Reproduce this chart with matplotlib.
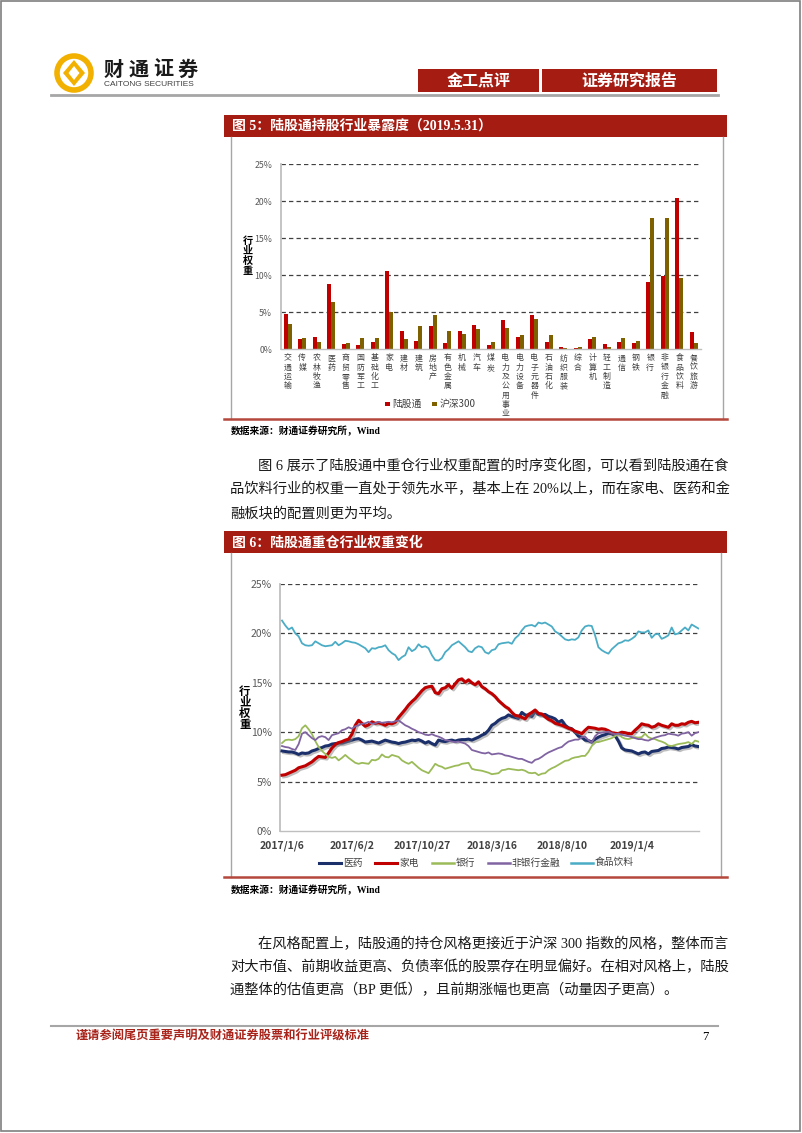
import numpy as np
import matplotlib
matplotlib.use("Agg")
import matplotlib.pyplot as plt
import matplotlib.patheffects as pe
from matplotlib.patches import Rectangle, Circle, Polygon

CJK = "Noto Sans CJK SC"
SERIF = ["Liberation Serif", CJK]
plt.rcParams["font.family"] = [CJK, "DejaVu Sans"]

W, H = 802, 1133
BAR_RED = "#A51C12"

# ---- figure 5: industry exposure (2019.5.31) ----
industries = ["交通运输", "传媒", "农林牧渔", "医药", "商贸零售", "国防军工", "基础化工",
              "家电", "建材", "建筑", "房地产", "有色金属", "机械", "汽车", "煤炭",
              "电力及公用事业", "电力设备", "电子元器件", "石油石化", "纺织服装", "综合",
              "计算机", "轻工制造", "通信", "钢铁", "银行", "非银行金融", "食品饮料", "餐饮旅游"]
lgt = [4.8, 1.35, 1.6, 8.8, 0.7, 0.6, 1.0, 10.6, 2.5, 1.1, 3.1, 0.8, 2.5, 3.3, 0.55,
       3.9, 1.65, 4.7, 1.05, 0.27, 0.13, 1.4, 0.68, 0.95, 0.8, 9.05, 9.95, 20.5, 2.4]
hs300 = [3.4, 1.5, 1.0, 6.4, 0.9, 1.5, 1.5, 5.1, 1.4, 3.2, 4.7, 2.5, 2.1, 2.8, 1.0,
         2.85, 2.0, 4.1, 1.9, 0.13, 0.27, 1.7, 0.27, 1.5, 1.1, 17.75, 17.7, 9.65, 0.9]

# ---- figure 6: weekly weights, 2017/1/6 .. 2019/5/31 ----
date_ticks = ["2017/1/6", "2017/6/2", "2017/10/27", "2018/3/16", "2018/8/10", "2019/1/4"]
tick_step = 21   # one labelled date every 21 weekly observations
yiyao = [8.1, 8.05, 8.0, 8.0, 7.9, 7.75, 7.9, 7.85, 7.9, 8.1,
         8.2, 8.35, 8.45, 8.6, 8.65, 8.8, 8.85, 8.9, 8.9, 9.0,
         9.1, 9.2, 9.3, 9.35, 9.2, 9.0, 9.05, 9.1, 9.0, 8.9,
         9.05, 9.2, 9.1, 9.0, 8.95, 8.85, 8.95, 9.0, 9.1, 9.2,
         9.15, 9.25, 9.1, 8.9, 9.05, 8.85, 8.7, 9.2, 9.1, 9.05,
         9.15, 9.2, 9.1, 9.2, 9.25, 9.25, 9.3, 9.2, 9.35, 9.5,
         9.7, 9.85, 10.2, 10.7, 10.9, 11.2, 11.4, 11.5, 11.75, 11.6,
         11.5, 11.4, 12.0, 11.75, 11.7, 11.6, 12.1, 11.8, 11.75, 11.8,
         11.6, 11.5, 11.35, 11.0, 11.2, 10.7, 10.45, 10.35, 10.0, 9.6,
         9.5, 9.2, 9.15, 9.0, 9.3, 9.5, 9.65, 9.75, 9.9, 9.85,
         9.65, 9.1, 8.4, 8.2, 8.15, 8.1, 7.95, 7.8, 7.95, 8.0,
         7.8, 8.05, 8.1, 8.15, 8.35, 8.4, 8.5, 8.45, 8.4, 8.3,
         8.45, 8.5, 8.55, 8.75, 8.6, 8.55]
jiadian = [5.65, 5.7, 5.85, 6.0, 6.15, 6.4, 6.5, 6.6, 6.8, 7.0,
           7.3, 7.55, 7.5, 7.45, 7.9, 8.4, 8.75, 8.95, 9.05, 9.2,
           9.3, 9.8, 10.7, 11.2, 10.9, 10.6, 10.75, 11.05, 10.9, 10.95,
           10.85, 10.7, 10.9, 10.85, 11.0, 11.5, 11.9, 12.3, 12.75, 13.1,
           13.4, 13.8, 14.2, 14.5, 14.6, 14.65, 14.0, 13.9, 14.4, 14.5,
           14.8, 14.45, 14.9, 15.3, 15.4, 15.05, 15.3, 15.0, 14.8, 15.1,
           14.6, 14.4, 14.1, 13.9, 13.6, 13.2, 12.9, 12.6, 12.4, 12.0,
           11.7, 11.65, 11.5, 11.35, 11.8, 12.0, 12.25, 11.9, 11.85, 11.55,
           11.3, 11.15, 10.9, 10.8, 10.7, 10.55, 10.4, 10.3, 10.1, 10.0,
           9.85, 10.2, 10.5, 10.45, 10.4, 10.3, 10.35, 10.3, 10.15, 9.95,
           9.9, 9.85, 10.0, 9.95, 9.85, 9.85, 10.2, 10.5, 10.85, 10.75,
           10.7, 10.5, 10.6, 10.85, 10.7, 10.6, 10.5, 10.85, 10.7, 10.7,
           10.85, 10.8, 11.0, 11.1, 10.95, 11.0]
yinhang = [8.9, 9.2, 9.25, 9.2, 9.3, 9.6, 10.4, 10.7, 10.3, 9.8,
           9.1, 8.5, 8.1, 7.8, 7.5, 7.4, 7.5, 7.15, 7.4, 7.7,
           7.4, 7.15, 6.9, 6.8, 6.9, 6.85, 6.8, 7.2, 7.15, 7.3,
           7.75, 7.5, 7.45, 7.7, 7.6, 7.5, 7.15, 6.95, 6.8, 7.0,
           6.7, 6.4, 6.15, 6.0, 5.85, 6.3, 6.8, 6.6, 6.5, 6.3,
           6.4, 6.5, 6.6, 6.65, 6.8, 6.85, 6.9, 6.3, 6.2, 6.15,
           6.1, 6.0, 5.9, 5.75, 5.8, 5.85, 6.15, 6.2, 6.3, 6.25,
           6.2, 6.15, 6.2, 6.1, 5.9, 5.85, 5.9, 5.65, 5.8, 5.85,
           6.15, 6.35, 6.5, 6.7, 6.9, 7.1, 7.15, 7.35, 7.45, 7.5,
           7.6, 7.6, 8.0, 8.6, 9.0, 9.0, 9.1, 9.2, 9.3, 9.4,
           9.6, 9.85, 9.5, 9.35, 9.3, 9.4, 9.5, 9.45, 9.5, 9.85,
           9.5, 9.35, 9.3, 9.15, 9.05, 8.9, 8.65, 8.6, 8.7, 8.8,
           8.85, 8.9, 9.0, 8.8, 9.15, 9.05]
feiyin = [8.6, 8.5, 8.45, 8.3, 8.2, 8.8, 9.85, 10.0, 9.7, 9.4,
          9.2, 9.5, 9.6, 9.5, 9.2, 9.7, 9.8, 9.9, 10.2, 10.3,
          10.5, 10.35, 10.6, 10.7, 10.85, 10.9, 11.05, 10.85, 10.9, 11.05,
          10.95, 11.0, 11.05, 11.0, 11.1, 11.2, 10.95, 10.7, 10.55, 10.35,
          10.2, 10.0, 9.9, 9.75, 9.7, 9.8, 9.65, 9.55, 9.4, 9.2,
          9.15, 9.05, 9.0, 9.05, 8.95, 8.85, 8.6, 8.2, 8.1, 8.0,
          7.9, 7.85, 7.95, 7.75, 7.8, 7.85, 7.8, 7.65, 7.6, 7.5,
          7.4, 7.3, 7.3, 7.15, 7.0, 6.9, 7.2, 7.3, 7.5, 7.75,
          7.95, 8.1, 8.25, 8.4, 8.5, 8.8, 9.05, 9.15, 9.25, 9.25,
          9.5, 9.55, 9.2, 8.95, 9.6, 9.9, 9.95, 10.0, 10.05, 9.9,
          9.8, 9.85, 9.75, 9.65, 9.6, 9.5, 9.4, 9.3, 9.3, 9.2,
          9.15, 9.3, 9.45, 9.55, 9.65, 9.7, 9.85, 9.8, 9.75, 9.65,
          9.85, 9.9, 10.0, 9.65, 9.9, 10.0]
shipin = [21.3, 20.8, 20.4, 20.6, 20.0, 19.7, 19.0, 18.8, 18.75, 18.8,
          19.2, 19.0, 18.8, 18.7, 18.75, 18.8, 19.15, 18.8, 19.0, 19.25,
          19.2, 19.1, 19.05, 18.9, 18.7, 18.5, 18.1, 18.5, 18.45, 18.6,
          18.65, 18.8, 18.3, 18.0, 17.8, 17.3, 17.6, 17.8, 18.6, 18.2,
          18.4, 18.9, 18.6, 18.7, 18.5, 17.8, 17.3, 17.25, 17.5, 18.1,
          18.4, 18.8, 19.0, 19.2, 18.9, 18.6, 18.2, 18.1, 18.5, 18.7,
          18.6, 18.1, 17.95, 18.3, 18.4, 18.9, 19.0, 19.05, 19.1, 18.95,
          19.5, 19.8, 20.3, 20.7, 20.8, 20.85, 20.7, 21.1, 21.0, 21.1,
          20.9, 20.7, 20.2, 20.0, 19.7, 19.4, 19.3, 19.4, 19.35, 19.6,
          20.3, 20.7, 20.8, 20.75, 19.8, 18.6, 18.3, 18.1, 17.95, 18.4,
          18.7, 19.0, 19.1, 19.3, 19.25, 19.45, 19.7, 20.2, 20.1, 20.1,
          20.3, 19.55, 19.9, 19.95, 19.45, 19.6, 19.8, 20.6, 19.9, 20.0,
          20.3, 20.6, 20.3, 20.9, 20.7, 20.5]
series6 = [("医药", yiyao, "#1B2F6B", 2.2, True),
           ("家电", jiadian, "#C00000", 2.2, True),
           ("银行", yinhang, "#9BBB59", 1.3, False),
           ("非银行金融", feiyin, "#8064A2", 1.3, False),
           ("食品饮料", shipin, "#4BACC6", 1.3, False)]

para1 = ["图 6 展示了陆股通中重仓行业权重配置的时序变化图，可以看到陆股通在食",
         "品饮料行业的权重一直处于领先水平，基本上在 20%以上，而在家电、医药和金",
         "融板块的配置则更为平均。"]
para2 = ["在风格配置上，陆股通的持仓风格更接近于沪深 300 指数的风格，整体而言",
         "对大市值、前期收益更高、负债率低的股票存在明显偏好。在相对风格上，陆股",
         "通整体的估值更高（BP 更低），且前期涨幅也更高（动量因子更高）。"]

fig = plt.figure(figsize=(W / 100, H / 100), dpi=100, facecolor="white")
bg = fig.add_axes([0, 0, 1, 1], zorder=0)
bg.set_xlim(0, W)
bg.set_ylim(H, 0)
bg.axis("off")


def px_axes(l, t, r, b):
    return fig.add_axes([l / W, 1 - b / H, (r - l) / W, (b - t) / H], zorder=2)


# page frame
bg.add_patch(Rectangle((1, 1), W - 3, H - 3, fill=False, ec="#7f7f7f", lw=1.2))

# ---- header ----
gold = "#F2B000"
bg.add_patch(Circle((74, 73), 17, fill=False, ec=gold, lw=4))
bg.add_patch(Polygon([[74, 60], [85, 73], [74, 86], [63, 73]], closed=True,
                     fc=gold, ec="none"))
bg.add_patch(Polygon([[74, 66], [79.5, 73], [74, 80], [68.5, 73]], closed=True,
                     fc="white", ec="none"))
for k, ch in enumerate("财通证券"):
    bg.text(114 + 24.5 * k, 69, ch, fontsize=14.5, fontweight="bold",
            ha="center", va="center", color="#1a1a1a")
bg.text(104, 84.5, "CAITONG SECURITIES", fontsize=6, family="Liberation Sans",
        ha="left", va="center", color="#404040")
bg.add_patch(Rectangle((418, 69), 121, 23, fc=BAR_RED, ec="none"))
bg.add_patch(Rectangle((542, 69), 175, 23, fc=BAR_RED, ec="none"))
bg.text(478.5, 80.5, "金工点评", fontsize=11.5, fontweight="bold", color="white",
        ha="center", va="center")
bg.text(629.5, 80.5, "证券研究报告", fontsize=11.5, fontweight="bold", color="white",
        ha="center", va="center")
bg.plot([51, 718], [94.5, 94.5], color="#a6a6a6", lw=2)


def chart_frame(top, bottom, right, title):
    bg.add_patch(Rectangle((224, top), 503, 22, fc=BAR_RED, ec="none"))
    bg.text(232, top + 11.5, title, fontsize=10, fontweight="bold", color="white",
            ha="left", va="center", family=SERIF)
    bg.plot([231, 231], [top + 22, bottom], color="#a6a6a6", lw=1)
    bg.plot([right, right], [top + 22, bottom], color="#a6a6a6", lw=1)
    bg.plot([224, 727], [bottom, bottom], color="#B5483C", lw=1.8)
    bg.text(231, bottom + 13, "数据来源：财通证券研究所，Wind", fontsize=7,
            fontweight="bold", ha="left", va="center", family=SERIF)


chart_frame(114.5, 418.5, 723, "图 5：陆股通持股行业暴露度（2019.5.31）")
chart_frame(531, 877, 721, "图 6：陆股通重仓行业权重变化")


def style_axes(ax, labelsize):
    ax.set_facecolor("none")
    for side in ("top", "right"):
        ax.spines[side].set_visible(False)
    ax.spines["left"].set_color("#BFBFBF")
    ax.spines["left"].set_linewidth(1.3)
    ax.spines["bottom"].set_color("#BFBFBF")
    ax.spines["bottom"].set_linewidth(1.0)
    ax.set_ylim(0, 25)
    ax.set_yticks(range(0, 26, 5))
    ax.set_yticklabels([f"{v}%" for v in range(0, 26, 5)])
    for v in range(5, 26, 5):
        ax.axhline(v, color="#404040", lw=0.9, ls=(0, (3.5, 2.5)), zorder=0)
    ax.tick_params(axis="y", length=0, pad=6, labelsize=labelsize, labelcolor="#595959")


# ---- chart 5: bars ----
ax5 = px_axes(280.5, 164.3, 701, 349.3)
style_axes(ax5, 6.3)
x = np.arange(len(industries))
bw = 0.29
ax5.bar(x - bw / 2, lgt, bw, color="#C00000", zorder=2)
ax5.bar(x + bw / 2, hs300, bw, color="#7F6000", zorder=2)
ax5.set_xlim(-0.5, len(industries) - 0.5)
ax5.set_xticks(x)
ax5.set_xticklabels(["\n".join(c) for c in industries], fontsize=5.7, linespacing=1.04,
                    color="#404040", va="top")
ax5.tick_params(axis="x", length=0, pad=3)
bg.text(248, 256, "\n".join("行业权重"), fontsize=7.3, fontweight="bold",
        ha="center", va="center", linespacing=1.05, family=SERIF)
bg.add_patch(Rectangle((385, 401.5), 4.5, 4.5, fc="#C00000", ec="none"))
bg.text(392, 404, "陆股通", fontsize=7, ha="left", va="center", color="#404040")
bg.add_patch(Rectangle((432, 401.5), 4.5, 4.5, fc="#7F6000", ec="none"))
bg.text(439.5, 404, "沪深300", fontsize=7, ha="left", va="center", color="#404040")

# ---- chart 6: lines ----
ax6 = px_axes(280, 584, 699, 831)
style_axes(ax6, 7.5)
for name, vals, col, lw, shadow in series6:
    effects = None
    if shadow:
        effects = [pe.SimpleLineShadow(offset=(1.2, -1.2), shadow_color="#7f7f7f", alpha=0.5),
                   pe.Normal()]
    ax6.plot(np.arange(len(vals)), vals, color=col, lw=lw, zorder=3,
             solid_joinstyle="round", path_effects=effects)
ax6.set_xticks(np.arange(len(date_ticks)) * tick_step)
ax6.set_xticklabels(date_ticks, fontsize=7.5, fontweight="bold", color="#404040")
ax6.tick_params(axis="x", length=0, pad=6.5)
ax6.set_xlim(-0.6, 125.2)
bg.text(245, 708, "\n".join("行业权重"), fontsize=8.2, fontweight="bold",
        ha="center", va="center", linespacing=1.05, family=SERIF)
leg_x = [319, 375, 432, 487.5, 571]
for lx, (name, vals, col, lw, shadow) in zip(leg_x, series6):
    bg.plot([lx, lx + 22], [862.5, 862.5], color=col, lw=2.2 if shadow else 1.8)
    bg.text(lx + 24, 862.5, name, fontsize=7, ha="left", va="center", color="#404040")

# ---- body text ----
body = dict(fontsize=10.3, ha="left", va="center", color="#1a1a1a", family=SERIF)
for k, line in enumerate(para1):
    bg.text(258 if k == 0 else 230, 466 + 23.5 * k, line, **body)
for k, line in enumerate(para2):
    bg.text(258 if k == 0 else 230, 944 + 23 * k, line, **body)

# ---- footer ----
bg.plot([51, 718], [1026, 1026], color="#a6a6a6", lw=1.5)
bg.text(76, 1036.5, "谨请参阅尾页重要声明及财通证券股票和行业评级标准", fontsize=8.8,
        fontweight="bold", color="#A8231A", ha="left", va="center", family=SERIF)
bg.text(705, 1036.5, "7", fontsize=9, ha="center", va="center", family=SERIF)

fig.savefig("out.png", dpi=100, facecolor="white")
